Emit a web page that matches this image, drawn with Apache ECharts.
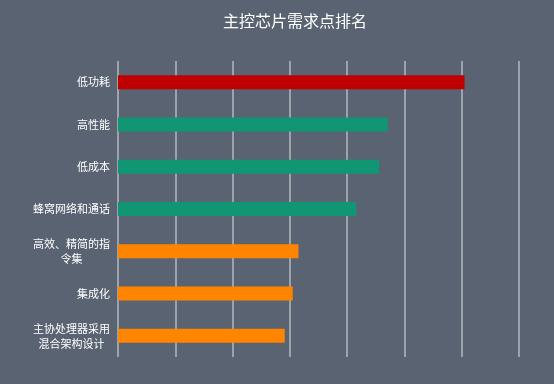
<!DOCTYPE html>
<html>
<head>
<meta charset="utf-8">
<script src="https://cdn.jsdelivr.net/npm/echarts@6/dist/echarts.min.js"></script>
<style>
	html, body {margin: 0; padding: 0; background: #5a6371;}
	#chart {width: 554px; height: 384px;}
</style>
</head>
<body>
<div id="chart"></div>
<script>
const categories = [
	'低功耗',
	'高性能',
	'低成本',
	'蜂窝网络和通话',
	'高效、精简的指令集',
	'集成化',
	'主协处理器采用混合架构设计',
];
const values = [60.5, 47.1, 45.6, 41.6, 31.5, 30.5, 29.1];
const barColors = ['#c00000', '#119674', '#119674', '#119674', '#ff8400', '#ff8400', '#ff8400'];

// wrap long labels every 7 chars, lines centred inside the block
function wrapLabel(str) {
	const lines = [];
	for (let i = 0; i < str.length; i += 7) {
		lines.push('{c|' + str.slice(i, i + 7) + '}');
	}
	return lines.join('\n');
}

const chart = echarts.init(document.getElementById('chart'));
chart.setOption({
	backgroundColor: '#5a6371',
	animation: false,
	textStyle: {fontFamily: 'Noto Sans CJK SC'},
	title: {
		text: '主控芯片需求点排名',
		left: 218,
		top: 8,
		textStyle: {color: '#ffffff', fontSize: 16, fontWeight: 'normal', fontFamily: 'Noto Sans CJK SC'}
	},
	grid: {left: 118, right: 35, top: 61, bottom: 27},
	xAxis: {
		type: 'value',
		min: 0,
		max: 70,
		interval: 10,
		axisLine: {show: false},
		axisTick: {show: false},
		axisLabel: {show: false},
		splitLine: {show: true, lineStyle: {color: '#b4b8be', width: 1.5}}
	},
	yAxis: {
		type: 'category',
		inverse: true,
		data: categories,
		axisLine: {show: false},
		axisTick: {show: false},
		axisLabel: {
			color: '#ffffff',
			fontSize: 11,
			margin: 8,
			formatter: wrapLabel,
			rich: {
				c: {
					color: '#ffffff',
					fontSize: 11,
					lineHeight: 15,
					align: 'center',
					fontFamily: 'Noto Sans CJK SC'
				}
			}
		}
	},
	series: [
		{
			type: 'bar',
			barWidth: 14,
			data: values.map((v, i) => ({
				value: v,
				itemStyle: {color: barColors[i]}
			}))
		}
	]
});
</script>
</body>
</html>
